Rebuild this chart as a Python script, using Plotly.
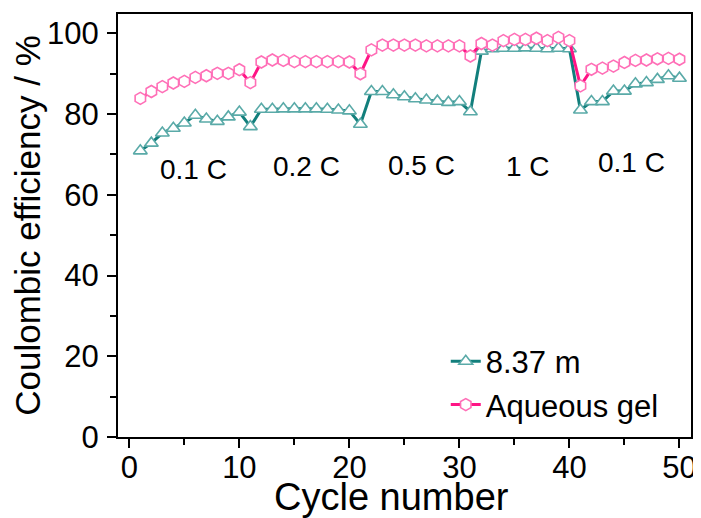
import plotly.graph_objects as go

cycles = list(range(1, 51))

ce_837m = [70.9, 72.8, 75.3, 76.5, 77.8, 79.7, 78.8, 78.2, 79.3, 80.5,
           76.9, 81.2, 81.2, 81.3, 81.3, 81.3, 81.3, 81.2, 81.0, 80.8,
           77.5, 85.6, 85.6, 84.8, 84.3, 83.8, 83.5, 83.2, 82.9, 83.1,
           80.6, 95.6, 96.2, 96.3, 96.3, 96.4, 96.3, 96.2, 96.3, 96.2,
           81.0, 83.1, 83.1, 85.7, 85.7, 87.5, 87.8, 88.6, 89.5, 88.9]

ce_gel = [83.9, 85.6, 86.8, 87.7, 88.1, 89.1, 89.5, 90.1, 90.1, 91.0,
          87.8, 92.9, 93.4, 93.3, 93.0, 93.0, 93.0, 93.0, 93.0, 92.9,
          90.0, 95.9, 97.1, 97.1, 97.1, 97.1, 96.9, 96.9, 96.9, 96.9,
          94.4, 97.5, 97.1, 98.2, 98.5, 98.5, 98.8, 98.2, 99.0, 98.2,
          87.0, 91.1, 91.4, 91.9, 92.8, 93.3, 93.4, 93.7, 93.8, 93.6]

rate_labels = ["0.1 C", "0.2 C", "0.5 C", "1 C", "0.1 C"]
rate_x = [5.85, 16.1, 26.6, 36.2, 45.6]
rate_y = [66.2, 67.0, 67.3, 67.0, 67.9]

FONT = "Liberation Sans, Arial, sans-serif"

fig = go.Figure()
fig.add_trace(go.Scatter(
    x=cycles, y=ce_837m, mode="lines+markers", name="8.37 m",
    line=dict(color="#127f7c", width=3),
    marker=dict(symbol="triangle-up", size=12, color="white",
                line=dict(color="#5aaaa8", width=1.6)),
))
fig.add_trace(go.Scatter(
    x=cycles, y=ce_gel, mode="lines+markers", name="Aqueous gel",
    line=dict(color="#ff1485", width=3),
    marker=dict(symbol="hexagon", size=12, color="white",
                line=dict(color="#ff6fb7", width=1.6)),
))

for t, x, y in zip(rate_labels, rate_x, rate_y):
    fig.add_annotation(x=x, y=y, text=t, showarrow=False,
                       font=dict(family=FONT, size=28, color="black"))

# x-axis title placed as a paper annotation (slightly left of centre, as in the reference)
fig.add_annotation(x=0.478, y=-0.142, xref="paper", yref="paper",
                   xanchor="center", yanchor="middle", showarrow=False,
                   text="Cycle number",
                   font=dict(family=FONT, size=38, color="black"))

axis_common = dict(
    showgrid=False, zeroline=False, showline=True, linecolor="black",
    linewidth=2, mirror=True, ticks="outside", ticklen=9, tickwidth=2,
    tickcolor="black", tickfont=dict(family=FONT, size=31, color="black"),
    automargin=False,
)

fig.update_xaxes(range=[-1.03, 51.05], tickvals=[0, 10, 20, 30, 40, 50],
                 minor=dict(tickvals=[5, 15, 25, 35, 45], ticks="outside",
                            ticklen=6, tickwidth=2, tickcolor="black"),
                 ticklabelstandoff=-7,
                 **axis_common)
fig.update_yaxes(range=[0, 104.8], tickvals=[0, 20, 40, 60, 80, 100],
                 minor=dict(tickvals=[10, 30, 50, 70, 90], ticks="outside",
                            ticklen=6, tickwidth=2, tickcolor="black"),
                 ticklabelstandoff=2,
                 title=dict(text="Coulombic efficiency / %", standoff=4,
                            font=dict(family=FONT, size=35, color="black")),
                 **axis_common)

# page body adds an 8 px offset; margins compensate so the plot area
# lands where it sits in the reference
fig.update_layout(
    width=701, height=518,
    margin=dict(l=110, r=18, t=6, b=89),
    plot_bgcolor="white", paper_bgcolor="white",
    showlegend=True,
    legend=dict(x=0.572, y=0.242, xanchor="left", yanchor="top",
                bgcolor="rgba(0,0,0,0)", borderwidth=0,
                font=dict(family=FONT, size=31, color="black"),
                tracegroupgap=0),
)

fig.write_html("out.html")
